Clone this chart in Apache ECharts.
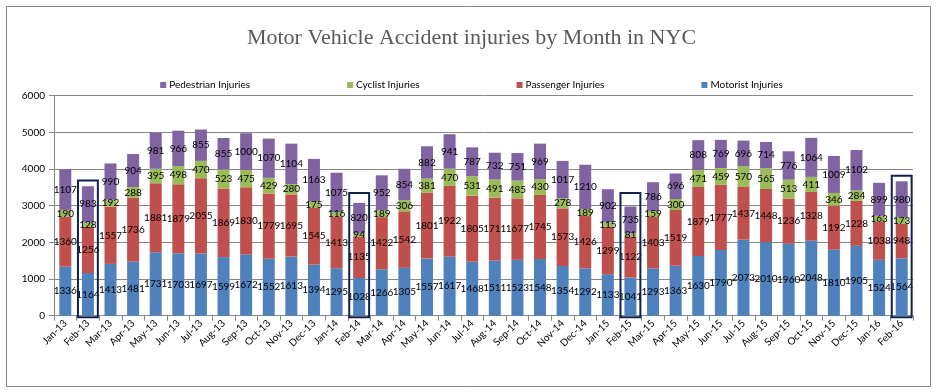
<!DOCTYPE html>
<html>
<head>
<meta charset="utf-8">
<script src="https://cdn.jsdelivr.net/npm/echarts@6/dist/echarts.min.js"></script>
<style>
html,body{margin:0;padding:0;background:#fff;}
#chart{width:943px;height:392px;}
</style>
</head>
<body>
<div id="chart"></div>
<script>
var months = ['Jan-13','Feb-13','Mar-13','Apr-13','May-13','Jun-13','Jul-13','Aug-13','Sep-13','Oct-13','Nov-13','Dec-13',
  'Jan-14','Feb-14','Mar-14','Apr-14','May-14','Jun-14','Jul-14','Aug-14','Sep-14','Oct-14','Nov-14','Dec-14',
  'Jan-15','Feb-15','Mar-15','Apr-15','May-15','Jun-15','Jul-15','Aug-15','Sep-15','Oct-15','Nov-15','Dec-15',
  'Jan-16','Feb-16'];
var motorist = [1336,1164,1413,1481,1731,1703,1697,1599,1672,1552,1613,1394,
  1295,1028,1266,1305,1557,1617,1468,1511,1523,1548,1354,1292,
  1133,1041,1293,1363,1630,1790,2073,2010,1960,2048,1810,1905,
  1524,1564];
var passenger = [1360,1256,1557,1736,1881,1879,2055,1869,1830,1779,1695,1545,
  1413,1135,1422,1542,1801,1922,1805,1711,1677,1745,1573,1426,
  1299,1122,1403,1519,1879,1777,1437,1448,1236,1328,1192,1228,
  1038,948];
var cyclist = [190,128,192,288,395,498,470,523,475,429,280,175,
  116,94,189,306,381,470,531,491,485,430,278,189,
  115,81,159,300,471,459,570,565,513,411,346,284,
  163,173];
var pedestrian = [1107,983,990,904,981,966,855,855,1000,1070,1104,1163,
  1075,820,952,854,882,941,787,732,751,969,1017,1210,
  902,735,786,696,808,769,696,714,776,1064,1009,1102,
  899,980];
var yTicks = [0,1000,2000,3000,4000,5000,6000];
var highlightMonths = ['Feb-13','Feb-14','Feb-15','Feb-16'];
var highlightTops = [3690,3345,3345,3815];

var FONT = 'Lato, "Liberation Sans", sans-serif';
var chart = echarts.init(document.getElementById('chart'));

function barSeries(name, data, color) {
  return {
    name: name, type: 'bar', stack: 'total', data: data, barWidth: 12,
    itemStyle: { color: color },
    label: { show: true, position: 'inside', color: '#000', fontFamily: FONT, fontSize: 10 }
  };
}

var option = {
  animation: false,
  backgroundColor: '#fff',
  title: {
    text: 'Motor Vehicle Accident injuries by Month in NYC',
    left: 'center', top: 22,
    textStyle: { fontFamily: '"Liberation Serif", serif', fontSize: 22, fontWeight: 'normal', color: '#595959' }
  },
  legend: {
    data: ['Pedestrian Injuries','Cyclist Injuries','Passenger Injuries','Motorist Injuries'],
    left: 'center', top: 75, itemWidth: 6, itemHeight: 6, itemGap: 97,
    icon: 'rect',
    textStyle: { fontFamily: FONT, fontSize: 10, color: '#000', padding: [0,0,0,-2] }
  },
  graphic: [{
    type: 'rect', shape: { x: 6.5, y: 6.5, width: 924, height: 380 },
    style: { fill: 'none', stroke: '#868686', lineWidth: 1 }, z: -1
  }],
  grid: { left: 54, right: 30, top: 95.7, bottom: 76.3 },
  xAxis: {
    type: 'category', data: months,
    axisLine: { lineStyle: { color: '#868686' } },
    axisTick: { show: true, length: 5, lineStyle: { color: '#868686' } },
    axisLabel: { rotate: 45, fontFamily: FONT, fontSize: 10, color: '#000', margin: 6 }
  },
  yAxis: {
    type: 'value', min: yTicks[0], max: yTicks[yTicks.length-1], interval: 1000,
    axisLine: { show: true, lineStyle: { color: '#868686' } },
    axisTick: { show: true, length: 5, lineStyle: { color: '#868686' } },
    splitLine: { lineStyle: { color: '#868686' } },
    axisLabel: { fontFamily: FONT, fontSize: 10, color: '#000', margin: 9,
      formatter: function (v) { return String(v); } }
  },
  series: [
    barSeries('Motorist Injuries', motorist, '#4f81bd'),
    barSeries('Passenger Injuries', passenger, '#c0504d'),
    barSeries('Cyclist Injuries', cyclist, '#9bbb59'),
    barSeries('Pedestrian Injuries', pedestrian, '#8064a2'),
    {
      type: 'custom', name: 'highlight', z: 10,
      data: highlightMonths.map(function (m, i) { return [months.indexOf(m), highlightTops[i]]; }),
      renderItem: function (params, api) {
        var top = api.coord([api.value(0), api.value(1)]);
        var bottom = api.coord([api.value(0), 0]);
        var w = api.size([1, 0])[0] * 0.88;
        return {
          type: 'rect',
          shape: { x: top[0] - w / 2, y: top[1], width: w, height: bottom[1] - top[1] + 1.5 },
          style: { fill: 'none', stroke: '#0f2350', lineWidth: 2 }
        };
      }
    }
  ]
};
chart.setOption(option);
</script>
</body>
</html>
